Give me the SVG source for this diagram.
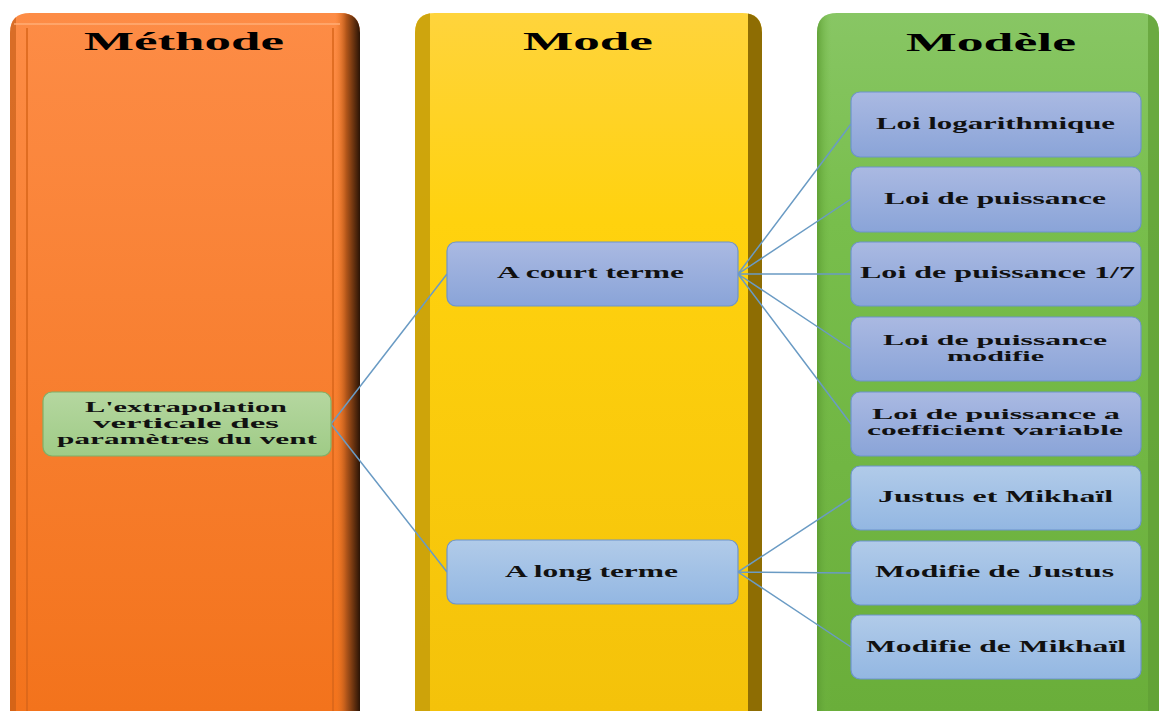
<svg xmlns="http://www.w3.org/2000/svg" width="1159" height="711" viewBox="0 0 1159 711" font-family="'Liberation Serif', serif">
<defs>
<linearGradient id="gOr" x1="0" y1="0" x2="0" y2="1"><stop offset="0" stop-color="#fd8c46"/><stop offset="1" stop-color="#f3731c"/></linearGradient>
<linearGradient id="gOrS" x1="0" y1="0" x2="1" y2="0"><stop offset="0" stop-color="#f47a24" stop-opacity="0"/><stop offset="0.45" stop-color="#b2561a"/><stop offset="1" stop-color="#2a1406"/></linearGradient>
<linearGradient id="gYe" x1="0" y1="0" x2="0" y2="1"><stop offset="0" stop-color="#ffd43c"/><stop offset="0.3" stop-color="#ffd20e"/><stop offset="1" stop-color="#f4c20a"/></linearGradient>
<linearGradient id="gGr" x1="0" y1="0" x2="0" y2="1"><stop offset="0" stop-color="#88c664"/><stop offset="0.3" stop-color="#78be4c"/><stop offset="1" stop-color="#6aae3a"/></linearGradient>
<linearGradient id="gGrL" x1="0" y1="0" x2="1" y2="0"><stop offset="0" stop-color="#5a9a30"/><stop offset="1" stop-color="#78be4c" stop-opacity="0"/></linearGradient>
<linearGradient id="gBlue" x1="0" y1="0" x2="0" y2="1"><stop offset="0" stop-color="#aab9e2"/><stop offset="1" stop-color="#8aa4d8"/></linearGradient>
<linearGradient id="gLight" x1="0" y1="0" x2="0" y2="1"><stop offset="0" stop-color="#b1cbe9"/><stop offset="1" stop-color="#93b7e2"/></linearGradient>
<linearGradient id="gSrc" x1="0" y1="0" x2="0" y2="1"><stop offset="0" stop-color="#b5d7a0"/><stop offset="1" stop-color="#9fcb86"/></linearGradient>
<clipPath id="cOr"><path d="M10,711 V33 Q10,13 30,13 H340 Q360,13 360,33 V711 Z"/></clipPath>
<clipPath id="cYe"><path d="M415,711 V33 Q415,13 435,13 H742 Q762,13 762,33 V711 Z"/></clipPath>
<clipPath id="cGr"><path d="M817,711 V33 Q817,13 837,13 H1139 Q1159,13 1159,33 V711 Z"/></clipPath>
</defs>
<style>
.title{font-weight:bold;font-size:25px;fill:#000;text-anchor:middle}
.lbl{font-weight:bold;font-size:16px;fill:#111;text-anchor:middle}
.lbl2{font-weight:bold;font-size:14px;fill:#111;text-anchor:middle}
.box{stroke:#6d94cc;stroke-width:1.2}
.src{stroke:#7fb068;stroke-width:1.2}
.conn{stroke:#6a9bc4;stroke-width:1.5;fill:none}
</style>
<rect width="1159" height="711" fill="#ffffff"/>
<g id="col-methode">
<g clip-path="url(#cOr)">
<rect x="10" y="13" width="350" height="698" fill="url(#gOr)"/>
<rect x="335" y="13" width="25" height="698" fill="url(#gOrS)"/>
<rect x="10" y="13" width="6" height="698" fill="#c25a14" opacity="0.6"/>
<path d="M14,24 H340" stroke="#ffb07a" stroke-width="2" opacity="0.7"/>
</g>
<path d="M27,711 V28 M333,711 V28" stroke="#d8661a" stroke-width="1.5"/>
<text class="title" x="184" y="50" textLength="200" lengthAdjust="spacingAndGlyphs">Méthode</text>
</g>
<g id="col-mode">
<g clip-path="url(#cYe)">
<rect x="415" y="13" width="347" height="698" fill="url(#gYe)"/>
<rect x="415" y="13" width="15" height="698" fill="#c9a00a" opacity="0.9"/>
<rect x="748" y="13" width="14" height="698" fill="#8e6d03"/>
</g>
<text class="title" x="588" y="50" textLength="130" lengthAdjust="spacingAndGlyphs">Mode</text>
</g>
<g id="col-modele">
<g clip-path="url(#cGr)">
<rect x="817" y="13" width="342" height="698" fill="url(#gGr)"/>
<rect x="817" y="13" width="14" height="698" fill="url(#gGrL)" opacity="0.8"/>
<rect x="1148" y="13" width="11" height="698" fill="#5f9e34" opacity="0.7"/>
</g>
<text class="title" x="991" y="51" textLength="170" lengthAdjust="spacingAndGlyphs">Modèle</text>
</g>
<g id="connectors">
<path class="conn" d="M331,424 L447,274 M331,424 L447,572"/>
<path class="conn" d="M738,274 L851,124 M738,274 L851,199 M738,274 L851,274 M738,274 L851,349 M738,274 L851,424"/>
<path class="conn" d="M738,572 L851,498 M738,572 L851,573 M738,572 L851,647"/>
</g>
<g id="n-source">
<rect class="src" x="43" y="392" width="288" height="64" rx="9" fill="url(#gSrc)"/>
<text class="lbl2" x="186" y="412" textLength="202" lengthAdjust="spacingAndGlyphs">L'extrapolation</text>
<text class="lbl2" x="186" y="428" textLength="186" lengthAdjust="spacingAndGlyphs">verticale des</text>
<text class="lbl2" x="187" y="444" textLength="260" lengthAdjust="spacingAndGlyphs">paramètres du vent</text>
</g>
<g id="n-court">
<rect class="box" x="447" y="242" width="291" height="64" rx="9" fill="url(#gBlue)"/>
<text class="lbl" x="590.5" y="278" textLength="187" lengthAdjust="spacingAndGlyphs">A court  terme</text>
</g>
<g id="n-long">
<rect class="box" x="447" y="540" width="291" height="64" rx="9" fill="url(#gLight)"/>
<text class="lbl" x="591.5" y="577" textLength="173" lengthAdjust="spacingAndGlyphs">A long terme</text>
</g>
<g id="n-log">
<rect class="box" x="851" y="92" width="290" height="65" rx="9" fill="url(#gBlue)"/>
<text class="lbl" x="995.5" y="129" textLength="239" lengthAdjust="spacingAndGlyphs">Loi logarithmique</text>
</g>
<g id="n-puis">
<rect class="box" x="851" y="167" width="290" height="65" rx="9" fill="url(#gBlue)"/>
<text class="lbl" x="995" y="204" textLength="222" lengthAdjust="spacingAndGlyphs">Loi de puissance</text>
</g>
<g id="n-puis17">
<rect class="box" x="851" y="242" width="290" height="64" rx="9" fill="url(#gBlue)"/>
<text class="lbl" x="997.5" y="278" textLength="275" lengthAdjust="spacingAndGlyphs">Loi de puissance 1/7</text>
</g>
<g id="n-puismod">
<rect class="box" x="851" y="317" width="290" height="64" rx="9" fill="url(#gBlue)"/>
<text class="lbl2" x="995" y="345" textLength="224" lengthAdjust="spacingAndGlyphs">Loi de puissance</text>
<text class="lbl2" x="995.5" y="361" textLength="97" lengthAdjust="spacingAndGlyphs">modifie</text>
</g>
<g id="n-puisvar">
<rect class="box" x="851" y="392" width="290" height="64" rx="9" fill="url(#gBlue)"/>
<text class="lbl2" x="996" y="419" textLength="248" lengthAdjust="spacingAndGlyphs">Loi de puissance a</text>
<text class="lbl2" x="995" y="435" textLength="256" lengthAdjust="spacingAndGlyphs">coefficient variable</text>
</g>
<g id="n-justmik">
<rect class="box" x="851" y="466" width="290" height="64" rx="9" fill="url(#gLight)"/>
<text class="lbl" x="995.5" y="502" textLength="235" lengthAdjust="spacingAndGlyphs">Justus  et Mikhaïl</text>
</g>
<g id="n-modjust">
<rect class="box" x="851" y="541" width="290" height="64" rx="9" fill="url(#gLight)"/>
<text class="lbl" x="994.5" y="577" textLength="239" lengthAdjust="spacingAndGlyphs">Modifie de Justus</text>
</g>
<g id="n-modmik">
<rect class="box" x="851" y="615" width="290" height="64" rx="9" fill="url(#gLight)"/>
<text class="lbl" x="996" y="652" textLength="260" lengthAdjust="spacingAndGlyphs">Modifie de Mikhaïl</text>
</g>
</svg>
